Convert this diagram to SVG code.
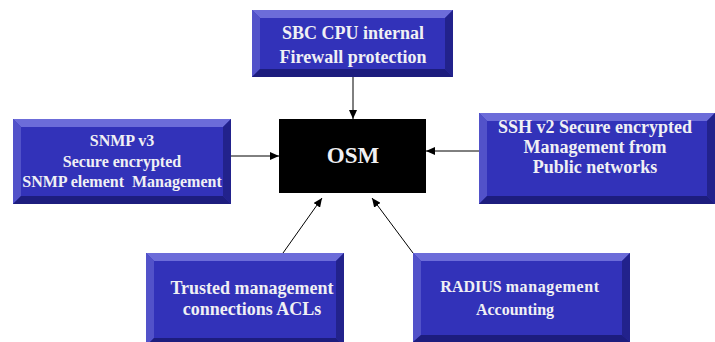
<svg xmlns="http://www.w3.org/2000/svg" width="715" height="342" viewBox="0 0 715 342">
<defs>
<style>
.face{fill:#3232b9}
.bt{fill:#6c6cd9}
.bl{fill:#5252c9}
.br{fill:#22228c}
.bb{fill:#1d1d7e}
.t{font-family:"Liberation Serif","Times New Roman",serif;font-weight:bold;fill:#f0f0f4;text-anchor:middle}
.c{stroke:#000;stroke-width:1;fill:none;marker-end:url(#ah)}
</style>
<marker id="ah" markerUnits="userSpaceOnUse" markerWidth="10" markerHeight="8" refX="9" refY="4" orient="auto">
<path d="M0,0 L9,4 L0,8 Z" fill="#000"/>
</marker>
</defs>
<rect width="715" height="342" fill="#fff"/>

<g id="firewall">
<rect x="252" y="10" width="201" height="67" class="face"/>
<polygon points="252,10 453,10 445,18 260,18" class="bt"/>
<polygon points="252,10 260,18 260,69 252,77" class="bl"/>
<polygon points="453,10 453,77 445,69 445,18" class="br"/>
<polygon points="252,77 260,69 445,69 453,77" class="bb"/>
<text class="t" font-size="18" x="353" y="39">SBC CPU internal</text>
<text class="t" font-size="18" x="353" y="63">Firewall protection</text>
</g>

<g id="snmp">
<rect x="13" y="119" width="218" height="85" class="face"/>
<polygon points="13,119 231,119 223,127 21,127" class="bt"/>
<polygon points="13,119 21,127 21,196 13,204" class="bl"/>
<polygon points="231,119 231,204 223,196 223,127" class="br"/>
<polygon points="13,204 21,196 223,196 231,204" class="bb"/>
<text class="t" font-size="16" x="122" y="146">SNMP v3</text>
<text class="t" font-size="16" x="122" y="167">Secure encrypted</text>
<text class="t" font-size="16" x="122" y="187" xml:space="preserve">SNMP element  Management</text>
</g>

<g id="ssh">
<rect x="479" y="113" width="236" height="91" class="face"/>
<polygon points="479,113 715,113 707,121 487,121" class="bt"/>
<polygon points="479,113 487,121 487,196 479,204" class="bl"/>
<polygon points="715,113 715,204 707,196 707,121" class="br"/>
<polygon points="479,204 487,196 707,196 715,204" class="bb"/>
<text class="t" font-size="18" x="595" y="133">SSH v2 Secure encrypted</text>
<text class="t" font-size="18" x="595" y="153">Management from</text>
<text class="t" font-size="18" x="595" y="173">Public networks</text>
</g>

<g id="osm">
<rect x="279" y="119" width="147" height="74" fill="#000"/>
<text class="t" font-size="23" x="353" y="163" fill="#fff">OSM</text>
</g>

<g id="trusted">
<rect x="146" y="253" width="198" height="93" class="face"/>
<polygon points="146,253 344,253 336,261 154,261" class="bt"/>
<polygon points="146,253 154,261 154,338 146,346" class="bl"/>
<polygon points="344,253 344,346 336,338 336,261" class="br"/>
<polygon points="146,346 154,338 336,338 344,346" class="bb"/>
<text class="t" font-size="18" x="252" y="294">Trusted management</text>
<text class="t" font-size="18" x="252" y="315">connections ACLs</text>
</g>

<g id="radius">
<rect x="413" y="253" width="217" height="89" class="face"/>
<polygon points="413,253 630,253 622,261 421,261" class="bt"/>
<polygon points="413,253 421,261 421,335 413,342" class="bl"/>
<polygon points="630,253 630,342 622,335 622,261" class="br"/>
<polygon points="413,342 421,335 622,335 630,342" class="bb"/>
<text class="t" font-size="16" x="520" y="292">RADIUS <tspan letter-spacing="0.6">management</tspan></text>
<text class="t" font-size="16" x="515" y="315">Accounting</text>
</g>

<g id="connectors">
<line class="c" x1="353" y1="77" x2="353" y2="119"/>
<line class="c" x1="231" y1="156" x2="279" y2="156"/>
<line class="c" x1="479" y1="151" x2="426" y2="151"/>
<line class="c" x1="283" y1="253" x2="322" y2="198"/>
<line class="c" x1="413" y1="253" x2="372" y2="198"/>
</g>
</svg>
